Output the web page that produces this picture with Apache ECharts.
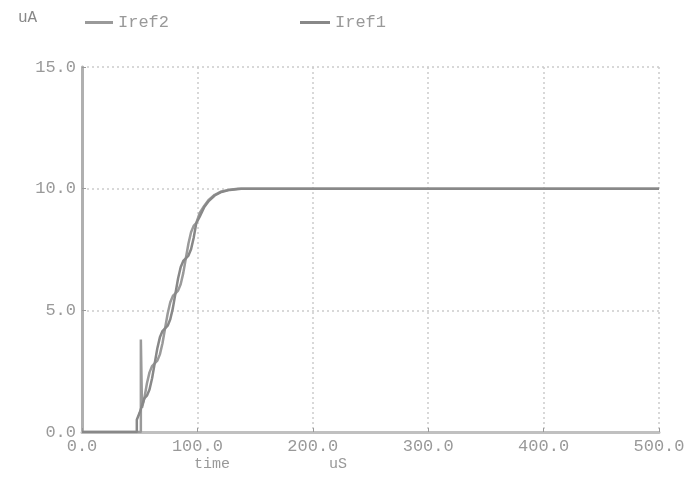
<!DOCTYPE html>
<html><head><meta charset="utf-8">
<script src="https://cdn.jsdelivr.net/npm/echarts@6/dist/echarts.min.js"></script>
<style>html,body{margin:0;padding:0;background:#fff}#c{width:691px;height:494px}</style>
</head><body><div id="c"></div>
<script>
var seriesNames = ['Iref2', 'Iref1'];
var xTicks = ['0.0', '100.0', '200.0', '300.0', '400.0', '500.0'];
var yTicks = ['0.0', '5.0', '10.0', '15.0'];
var unitLabel = 'uA';
var xName = 'time';
var xUnit = 'uS';
var iref2 = [[0,0],[51,0],[51,3.8],[52,1.0],[54,1.38],[56.25,1.99],[58.5,2.45],[60.75,2.71],[63,2.82],[65.25,2.93],[67.5,3.19],[69.75,3.65],[72,4.26],[74.25,4.87],[76.5,5.33],[78.75,5.59],[81,5.70],[83.25,5.81],[85.5,6.07],[87.75,6.53],[90,7.14],[92.25,7.75],[94.5,8.21],[96.75,8.47],[99,8.58],[102,9.0],[106,9.3],[110,9.55],[115,9.75],[120,9.87],[128,9.96],[135,10],[500,10]];
var iref1 = [[0,0],[47.5,0],[47.5,0.5],[50,0.8],[54,1.38],[56.25,1.49],[58.5,1.75],[60.75,2.21],[63,2.82],[65.25,3.43],[67.5,3.89],[69.75,4.15],[72,4.26],[74.25,4.37],[76.5,4.63],[78.75,5.09],[81,5.70],[83.25,6.31],[85.5,6.77],[87.75,7.03],[90,7.14],[92.25,7.25],[94.5,7.51],[96.75,7.97],[99,8.58],[102,8.85],[106,9.25],[110,9.5],[115,9.72],[120,9.85],[128,9.95],[138,10],[500,10]];

var font = '"Liberation Mono", "DejaVu Sans Mono", monospace';
var chart = echarts.init(document.getElementById('c'), null, {renderer:'canvas'});
chart.setOption({
  animation: false,
  backgroundColor: '#fff',
  grid: {left: 82, right: 32, top: 67, bottom: 62},
  legend: [
    {data:[seriesNames[0]], left: 80, top: 9, itemWidth: 28, itemHeight: 3, itemGap: 0, icon: 'rect', textStyle:{color:'#999', fontFamily: font, fontSize: 17}},
    {data:[seriesNames[1]], left: 295, top: 9, itemWidth: 30, itemHeight: 3, itemGap: 0, icon: 'rect', textStyle:{color:'#999', fontFamily: font, fontSize: 17}}
  ],
  xAxis: {
    type: 'value', min: 0, max: 500, interval: 100,
    axisLine: {show: true, onZero: false, lineStyle: {color: '#c0c0c0', width: 3}},
    axisTick: {show: true, inside: true, length: 4, lineStyle: {color: '#999'}},
    axisLabel: {color: '#999', fontFamily: font, fontSize: 17, margin: 6,
      formatter: function(v){ return xTicks[Math.round(v/100)]; }},
    splitLine: {show: true, lineStyle: {color: '#ccc', type: [2,3], width: 1.5}}
  },
  yAxis: {
    type: 'value', min: 0, max: 15, interval: 5,
    axisLine: {show: true, onZero: false, lineStyle: {color: '#b0b0b0', width: 3}},
    axisTick: {show: true, inside: true, length: 4, lineStyle: {color: '#999'}},
    axisLabel: {color: '#999', fontFamily: font, fontSize: 17, margin: 6,
      formatter: function(v){ return yTicks[Math.round(v/5)]; }},
    splitLine: {show: true, lineStyle: {color: '#ccc', type: [2,3], width: 1.5}}
  },
  series: [
    {name: seriesNames[0], type: 'line', data: iref2, showSymbol: false, lineStyle: {color: '#9a9a9a', width: 2.5}, itemStyle: {color: '#9a9a9a'}},
    {name: seriesNames[1], type: 'line', data: iref1, showSymbol: false, lineStyle: {color: '#888', width: 2.5}, itemStyle: {color: '#888'}}
  ],
  graphic: [
    {type: 'text', left: 18, top: 10, style: {text: unitLabel, fill: '#888', font: '16px ' + font}},
    {type: 'text', left: 194, top: 457, style: {text: xName, fill: '#999', font: '15px ' + font}},
    {type: 'text', left: 329, top: 457, style: {text: xUnit, fill: '#999', font: '15px ' + font}}
  ]
});
</script></body></html>
